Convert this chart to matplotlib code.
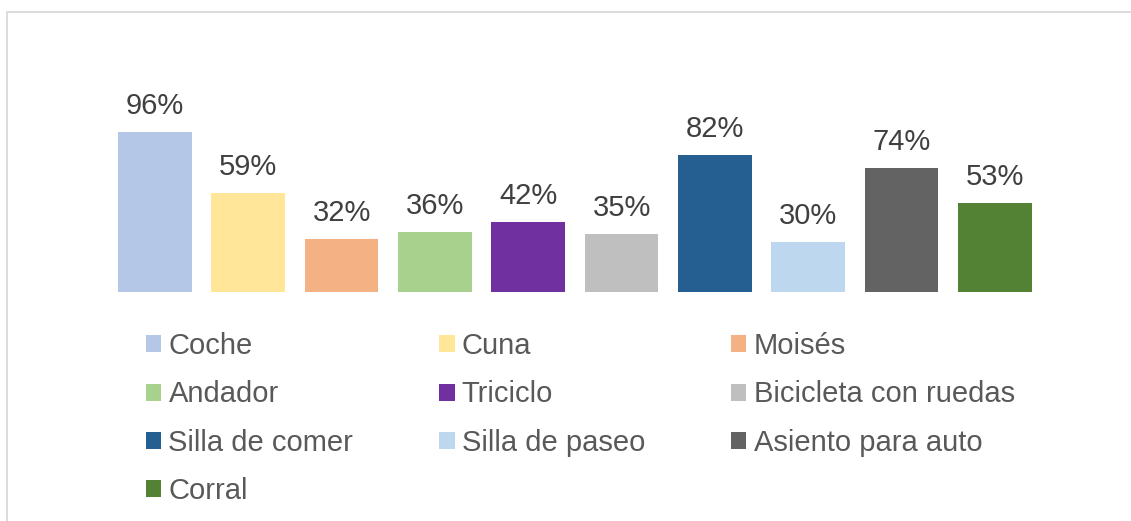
import matplotlib
matplotlib.use("Agg")
import matplotlib.pyplot as plt
from matplotlib.patches import Rectangle, Patch

categories = ["Coche", "Cuna", "Moisés", "Andador", "Triciclo",
              "Bicicleta con ruedas", "Silla de comer", "Silla de paseo",
              "Asiento para auto", "Corral"]
values = [96, 59, 32, 36, 42, 35, 82, 30, 74, 53]
colors = ["#B4C7E7", "#FFE699", "#F4B183", "#A9D18E", "#7030A0",
          "#BFBFBF", "#255E91", "#BDD7EE", "#636363", "#548235"]

W, H = 1131, 521
fig = plt.figure(figsize=(W / 100, H / 100), dpi=100)
plt.rcParams['font.family'] = ['Liberation Sans', 'DejaVu Sans']

# border (chart area frame, partially visible)
fig.add_artist(Rectangle((7 / W, -0.1), 1.2, (H - 12) / H + 0.1,
                         transform=fig.transFigure, fill=False,
                         edgecolor="#D9D9D9", linewidth=1.3))

x0, w = 108.3, 933.3
bottom_px, h = 292, 167
ax = fig.add_axes([x0 / W, (H - bottom_px) / H, w / W, h / H])
ax.set_xlim(-0.5, len(values) - 0.5)
ax.set_ylim(0, 100)
ax.axis("off")

xs = list(range(len(values)))
bars = ax.bar(xs, values, width=0.79, color=colors)
for x, v in zip(xs, values):
    ax.annotate(f"{v}%", (x, v), xytext=(0, 18), textcoords="offset pixels",
                ha="center", va="baseline", fontsize=21, color="#404040")

order = [0, 3, 6, 9, 1, 4, 7, 2, 5, 8]
handles = [Patch(facecolor=colors[i], edgecolor="none") for i in order]
labels = [categories[i] for i in order]
leg = fig.legend(handles, labels, ncol=3, loc="upper left",
                 bbox_to_anchor=(146 / W, (H - 332) / H),
                 frameon=False, fontsize=21, labelcolor="#595959",
                 handlelength=0.52, handleheight=0.52, handletextpad=0.25,
                 labelspacing=0.70, columnspacing=2.95,
                 borderpad=0, borderaxespad=0)

fig.savefig("out.png", dpi=100)
